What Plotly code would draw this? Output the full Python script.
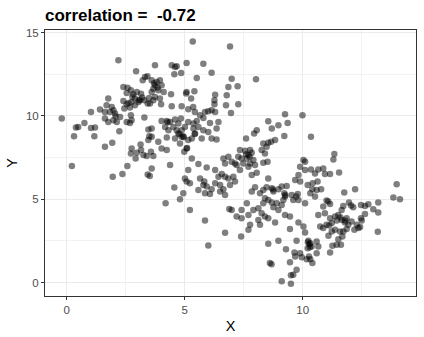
import plotly.graph_objects as go

# Upper-left group (x roughly 0-3.5)
ul_x = [2.19, 2.94, -0.21, 3.22, 3.32, 3.42, 2.40, 2.58, 2.72, 2.54, 2.82, 2.97, 3.15, 3.20, 2.89,
        3.04, 2.75, 2.54, 2.44, 2.68, 2.89, 3.11, 3.29, 3.43, 3.49, 1.76, 1.69, 1.91, 1.98, 1.83,
        1.62, 2.05, 1.41, 1.03, 1.62, 1.76, 1.98, 2.07, 2.26, 2.12, 2.54, 2.68, 2.75, 2.72, 2.40,
        3.29, 0.75, 0.49, 0.39, 1.03, 1.20, 1.17, 0.31, 2.23, 1.62, 1.93, 2.75, 2.72, 2.97, 3.15,
        3.25, 3.39, 2.92, 3.13, 3.46, 3.50, 3.46, 0.22, 2.57, 2.36, 1.95, 3.43, 3.52,
        2.78, 3.05, 2.62]
ul_y = [13.33, 12.67, 9.84, 12.13, 12.33, 12.37, 11.73, 11.69, 11.53, 11.37, 11.29, 11.43, 11.33, 11.10, 11.04,
        10.84, 10.84, 10.70, 10.44, 10.50, 10.64, 10.94, 10.94, 10.74, 11.08, 11.04, 10.64, 10.54, 10.34, 10.24,
        10.24, 10.14, 10.38, 10.24, 9.84, 9.64, 9.74, 9.98, 9.94, 9.64, 9.64, 9.58, 9.74, 10.04, 10.90,
        9.90, 9.58, 9.34, 9.30, 9.28, 9.30, 8.78, 8.78, 9.08, 8.15, 8.39, 8.05, 7.75, 7.79, 7.95,
        7.65, 7.59, 7.45, 8.29, 8.55, 8.78, 9.18, 6.99, 6.99, 6.51, 6.35, 6.49, 6.40,
        11.15, 10.95, 10.78]

# Upper-middle group (x roughly 3.5-7.3)
um_x = [5.34, 6.92, 3.74, 4.45, 4.66, 4.59, 5.08, 5.79, 4.56, 4.85, 6.14, 5.51, 6.99, 8.02,
        3.60, 3.81, 3.95, 3.74, 4.02, 3.67, 3.88, 3.60, 4.11, 3.74, 3.95, 3.67, 3.53, 4.00, 4.42,
        4.45, 4.87, 3.70, 3.85,
        5.08, 5.41, 5.27, 5.06, 6.29, 6.26, 6.26, 6.29, 6.78, 6.75, 6.96, 7.24, 6.85, 7.27,
        5.15, 5.36, 5.43, 5.86, 6.00, 6.14, 5.65, 5.79]
um_y = [14.46, 14.16, 13.03, 13.03, 12.97, 12.93, 13.17, 13.13, 12.49, 12.57, 12.59, 12.27, 12.23, 12.19,
        12.13, 12.03, 12.13, 11.83, 11.83, 11.63, 11.53, 11.43, 11.43, 11.14, 11.04, 10.94, 10.74, 10.70, 11.29,
        10.58, 10.58, 11.95, 11.70,
        11.43, 11.47, 11.04, 11.34, 11.27, 10.94, 10.70, 10.24, 11.23, 10.64, 10.18, 11.77, 11.73, 10.70,
        10.40, 10.54, 10.24, 10.24, 10.28, 10.34, 10.04, 9.88]

# Central group (x roughly 3.5-7.3, y below 10)
mid_x = [4.02, 4.24, 4.38, 4.59, 4.84, 4.73, 4.17, 4.52, 4.31, 4.66, 4.87, 5.01, 5.15, 5.37, 5.51,
         5.44, 5.37, 5.58, 5.79, 6.07, 6.43, 6.35, 6.00, 6.14, 6.35, 5.72, 5.30, 5.15, 4.87, 4.73,
         4.59, 4.80, 4.94, 5.08, 4.98, 4.24, 3.88, 4.02, 3.60, 3.60, 4.24, 4.38, 3.60, 3.67, 3.57,
         4.28, 4.78, 4.96, 5.42, 5.10,
         5.15, 5.30, 5.58, 5.93, 6.29, 6.43, 6.57, 6.71, 6.85, 7.06, 7.13, 6.92, 6.50, 6.64, 6.71,
         7.20, 6.71, 6.64, 6.85, 6.99, 7.13, 7.27, 5.01, 5.22, 5.08, 5.65, 5.79, 5.83, 5.93, 5.58,
         6.14, 5.86, 6.07, 6.29, 6.50, 4.56, 4.94, 4.80, 4.19, 5.22, 6.89, 6.99, 5.86, 6.71, 6.00]
mid_y = [9.70, 9.70, 9.64, 9.78, 9.84, 9.54, 9.34, 9.34, 9.14, 9.14, 9.14, 9.34, 9.64, 9.54, 9.70,
         8.94, 9.24, 9.34, 9.14, 9.58, 9.64, 9.24, 9.04, 8.65, 8.59, 8.65, 8.65, 8.55, 8.75, 8.94,
         8.65, 8.35, 8.78, 8.05, 7.85, 8.71, 8.45, 8.05, 9.24, 8.75, 7.95, 7.05, 6.85, 7.59, 7.85,
         9.62, 8.90, 8.72, 8.92, 8.08,
         6.75, 7.45, 7.11, 6.91, 6.75, 6.35, 6.51, 6.35, 6.25, 6.35, 6.06, 5.86, 5.86, 5.60, 5.26,
         7.05, 7.15, 7.45, 7.55, 7.25, 7.15, 7.55, 6.25, 5.96, 6.06, 6.25, 5.86, 6.06, 5.76, 5.56,
         5.60, 5.36, 5.32, 5.96, 5.46, 5.70, 5.36, 5.00, 4.76, 4.36, 4.42, 4.35, 3.73, 2.99, 2.23]

# Lower-right group (x roughly 7.2-11.1)
lr_x = [9.25, 9.99, 8.54, 8.97, 8.69, 9.36, 8.05, 7.94, 9.22, 10.35, 7.60, 8.83, 8.66, 8.54, 8.33,
        8.26, 8.47, 8.40, 8.51, 8.33,
        7.34, 7.56, 7.77, 7.84, 7.70, 7.63, 7.41, 7.48, 7.77, 7.91, 7.98, 7.70, 7.34, 7.84, 8.05,
        7.60, 7.75,
        10.03, 10.10, 9.89, 10.10, 10.35, 10.66, 10.87, 10.52, 10.94, 10.63, 10.42, 10.21, 9.68, 9.89, 9.82,
        8.54, 8.47, 8.76, 8.69, 8.97, 9.11, 9.32, 9.22, 9.53, 9.72, 9.79, 9.60, 9.82, 10.10, 10.32,
        10.41, 10.59, 10.78, 10.52, 7.98, 7.84, 8.19, 8.33, 9.26, 8.74,
        7.63, 7.41, 7.70, 7.91, 8.12, 8.33, 8.40, 8.54, 8.69, 8.76, 8.90, 9.11, 9.18, 9.25, 8.97,
        9.25, 9.46, 8.83, 8.54, 8.40, 8.26, 8.12, 8.19, 7.77, 7.70, 7.41, 7.20, 7.39, 8.54, 8.97,
        9.46, 9.74, 9.82, 10.03, 10.10, 10.24, 10.32, 10.38, 10.21, 10.59, 10.66, 10.87, 11.01, 10.74, 10.94,
        10.66, 10.87, 11.08, 10.28, 10.22, 10.30,
        9.29, 9.65, 9.89, 9.68, 9.96, 10.17, 10.32, 10.59, 10.41, 10.27, 8.61, 8.68, 9.46, 9.74, 9.60,
        9.50, 9.11, 9.50]
lr_y = [10.10, 10.04, 9.68, 9.44, 9.24, 9.58, 9.14, 8.94, 8.80, 8.75, 8.65, 8.55, 8.45, 8.39, 8.35,
        7.95, 8.15, 7.75, 7.25, 7.19,
        7.95, 7.91, 7.95, 7.79, 7.65, 7.45, 7.45, 7.15, 7.15, 7.35, 7.05, 6.95, 6.75, 6.45, 6.59,
        7.70, 7.55,
        7.35, 7.25, 6.95, 6.75, 6.79, 6.79, 6.85, 6.55, 6.51, 6.06, 5.96, 5.86, 6.16, 6.06, 6.45,
        6.25, 5.72, 5.46, 5.66, 5.60, 5.76, 5.80, 5.36, 5.26, 5.16, 5.32, 4.96, 4.96, 4.76, 5.36,
        5.60, 5.56, 5.60, 5.16, 5.72, 5.46, 5.36, 5.56, 5.25, 5.58,
        4.76, 4.36, 4.06, 4.36, 4.46, 4.76, 5.06, 4.96, 4.80, 4.52, 4.76, 4.66, 4.96, 5.16, 4.36,
        4.06, 3.96, 3.61, 3.86, 3.96, 4.16, 3.76, 3.47, 3.47, 3.17, 3.86, 3.96, 2.77, 2.33, 2.51,
        3.21, 2.51, 3.61, 3.37, 3.01, 2.51, 2.37, 2.17, 2.07, 2.47, 2.17, 3.27, 3.47, 3.37, 4.16,
        4.06, 4.56, 4.86, 2.30, 2.42, 2.12,
        2.01, 1.81, 1.77, 1.57, 1.53, 1.41, 1.41, 1.77, 1.18, 1.57, 1.18, 1.10, 1.22, 0.78, 0.48,
        -0.06, 0.08, 0.44]

# Far-right group (x above 11)
fr_x = [11.34, 11.30, 11.16, 11.54, 13.98, 13.84, 14.12, 11.76, 12.22, 11.01, 11.16,
        11.72, 11.96, 12.14, 12.47, 12.64, 12.78, 13.20, 12.99, 13.20, 12.64, 12.47, 12.50, 12.29, 12.43,
        12.19, 12.36, 11.65, 11.51, 11.37, 11.44, 11.23, 11.16, 11.65, 11.86, 11.79, 11.93, 12.07, 11.86,
        11.72, 11.58, 11.37, 11.23, 11.09, 11.51, 11.68, 11.44, 11.62, 11.26, 11.16, 13.18, 11.12,
        11.80, 11.60, 12.05]
fr_y = [7.71, 7.39, 6.51, 6.61, 5.90, 5.10, 5.00, 5.40, 5.60, 4.92, 4.72,
        4.60, 4.80, 4.52, 4.66, 4.60, 4.70, 4.80, 4.40, 4.20, 4.12, 3.86, 3.73, 3.47, 3.33,
        3.17, 3.27, 4.36, 4.06, 3.96, 3.73, 3.57, 3.86, 3.76, 3.86, 3.61, 3.47, 3.67, 3.21,
        3.07, 3.07, 3.17, 3.07, 2.81, 2.61, 2.77, 2.27, 2.27, 2.21, 1.81, 3.05, 3.43,
        3.72, 3.90, 4.62]

x_vals = ul_x + um_x + mid_x + lr_x + fr_x
y_vals = ul_y + um_y + mid_y + lr_y + fr_y

x_ticks = [0, 5, 10]
y_ticks = [0, 5, 10, 15]
title_text = "correlation =  -0.72"

fig = go.Figure(
    go.Scatter(
        x=x_vals, y=y_vals, mode="markers",
        marker=dict(size=6.5, color="rgba(0,0,0,0.5)", line=dict(width=0)),
        hoverinfo="skip",
    )
)

axis_common = dict(
    showline=True, mirror=True, linecolor="#333333", linewidth=1,
    ticks="outside", ticklen=3, tickcolor="#333333", tickwidth=1,
    gridcolor="#EBEBEB", gridwidth=1, zeroline=False, automargin=False,
    tickfont=dict(family="Liberation Sans, Arial, sans-serif", size=11.5, color="#4D4D4D"),
    title_font=dict(family="Liberation Sans, Arial, sans-serif", size=14.5, color="#000000"),
)

fig.update_layout(
    width=424, height=337,
    margin=dict(l=45, r=8, t=30, b=41),
    paper_bgcolor="white", plot_bgcolor="white",
    showlegend=False,
    title=dict(
        text="<b>" + title_text + "</b>",
        x=0, xref="paper", xanchor="left",
        y=1 - 15 / 337, yref="container", yanchor="middle",
        font=dict(family="Liberation Sans, Arial, sans-serif", size=17, color="#000000"),
    ),
    xaxis=dict(
        axis_common, range=[-0.92, 14.8], tickvals=x_ticks,
        title=dict(text="X", standoff=6),
        minor=dict(tickvals=[2.5, 7.5, 12.5], showgrid=True, gridcolor="#F2F2F2", gridwidth=0.6, ticks=""),
    ),
    yaxis=dict(
        axis_common, range=[-0.8, 15.15], tickvals=y_ticks,
        title=dict(text="Y", standoff=4),
        minor=dict(tickvals=[2.5, 7.5, 12.5], showgrid=True, gridcolor="#F2F2F2", gridwidth=0.6, ticks=""),
    ),
)

fig.write_html("out.html")
